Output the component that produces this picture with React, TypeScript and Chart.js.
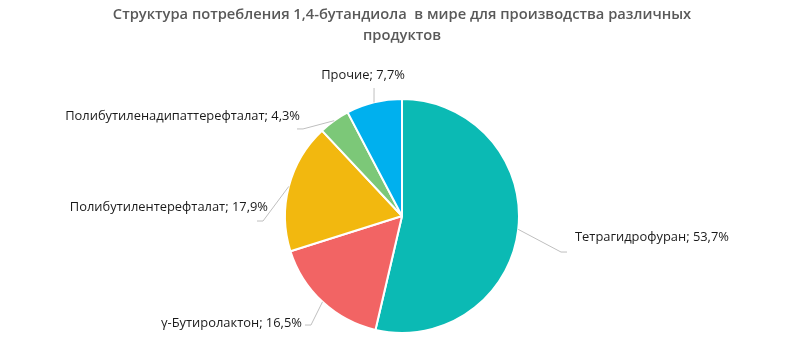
import React, { useEffect, useRef } from "react";
import { Chart, registerables } from "chart.js";

Chart.register(...registerables);

const titleLines = [
  "Структура потребления 1,4-бутандиола  в мире для производства различных",
  "продуктов",
];
const categories = [
  "Тетрагидрофуран",
  "γ-Бутиролактон",
  "Полибутилентерефталат",
  "Полибутиленадипаттерефталат",
  "Прочие",
];
const values = [53.7, 16.5, 17.9, 4.3, 7.7];
const valueLabels = ["53,7%", "16,5%", "17,9%", "4,3%", "7,7%"];
const colors = ["#0BBAB4", "#F26464", "#F2B80F", "#7CC878", "#00B0EE"];

// label layout: elbow point (in radius units from centre), tick, text anchor offset
const labelLayout = [
  { ex: 1.359, ey: 0.308, tick: 6, tx: 14, ty: -15, align: "left" },
  { ex: -0.778, ey: 0.932, tick: -6, tx: -9, ty: -2, align: "right" },
  { ex: -1.188, ey: 0.043, tick: -6, tx: 5, ty: -14, align: "right" },
  { ex: -0.846, ey: -0.744, tick: -6, tx: -3, ty: -13, align: "right" },
  { ex: -0.239, ey: -1.094, tick: 0, tx: -11, ty: -13, align: "center" },
];

const FONT = '"Open Sans", "Noto Sans", sans-serif';

const overlayPlugin = {
  id: "overlay",
  afterDraw(chart: any) {
    const ctx = chart.ctx;
    ctx.save();
    // title
    ctx.fillStyle = "#595959";
    ctx.font = `600 14.7px ${FONT}`;
    ctx.textAlign = "center";
    ctx.textBaseline = "middle";
    titleLines.forEach((t, i) => ctx.fillText(t, chart.width / 2, 15 + i * 20.5));

    const meta = chart.getDatasetMeta(0);
    meta.data.forEach((arc: any, i: number) => {
      const { x, y, outerRadius, startAngle, endAngle } = arc.getProps(
        ["x", "y", "outerRadius", "startAngle", "endAngle"],
        true
      );
      const mid = (startAngle + endAngle) / 2;
      const px = x + Math.cos(mid) * outerRadius;
      const py = y + Math.sin(mid) * outerRadius;
      const L = labelLayout[i];
      const elx = x + L.ex * outerRadius;
      const ely = y + L.ey * outerRadius;
      ctx.strokeStyle = "#BFBFBF";
      ctx.lineWidth = 1;
      ctx.beginPath();
      ctx.moveTo(px, py);
      ctx.lineTo(elx, ely);
      if (L.tick) ctx.lineTo(elx + L.tick, ely);
      ctx.stroke();
      ctx.fillStyle = "#1A1A1A";
      ctx.font = `12.9px ${FONT}`;
      ctx.textAlign = L.align;
      ctx.textBaseline = "middle";
      ctx.fillText(`${categories[i]}; ${valueLabels[i]}`, elx + L.tx, ely + L.ty);
    });
    ctx.restore();
  },
};

export default function App() {
  const ref = useRef<HTMLCanvasElement>(null);
  useEffect(() => {
    const chart = new Chart(ref.current!, {
      type: "pie",
      data: {
        labels: categories,
        datasets: [
          {
            data: values,
            backgroundColor: colors,
            borderColor: "#FFFFFF",
            borderWidth: 2,
          },
        ],
      },
      options: {
        responsive: false,
        animation: false,
        layout: { padding: { top: 98, bottom: 27, left: 0, right: 0 } },
        plugins: {
          legend: { display: false },
          title: { display: false },
          tooltip: { enabled: false },
        },
      },
      plugins: [overlayPlugin],
    });
    return () => chart.destroy();
  }, []);
  return (
    <div style={{ position: "fixed", left: 0, top: 0, width: 804, height: 361, background: "#fff" }}>
      <canvas ref={ref} width={804} height={361} />
    </div>
  );
}
